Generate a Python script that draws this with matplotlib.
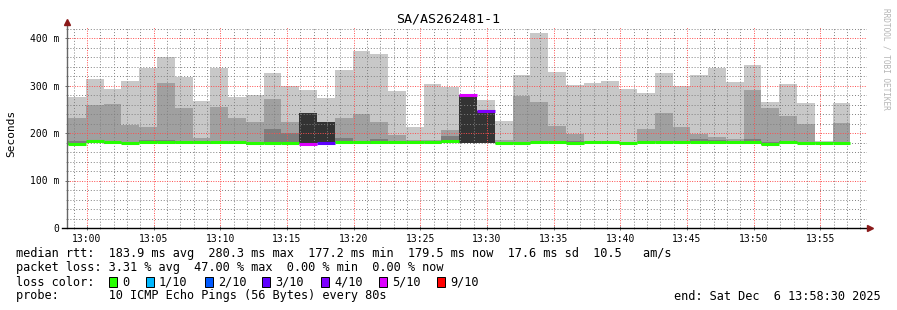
import numpy as np
import matplotlib
matplotlib.use("Agg")
import matplotlib.pyplot as plt
from matplotlib.patches import Rectangle
from matplotlib.lines import Line2D
from matplotlib.ticker import MultipleLocator

# --- data (ms), one entry per 80 s step, first one is the clipped sliver at the left edge
step = 80 / 60          # minutes
first_edge = -2.75      # minutes relative to 13:00

ping_max = [259, 276, 314, 293, 310, 337, 360, 318, 267, 337, 276, 280, 326, 299,
            291, 274, 333, 373, 366, 288, 213, 303, 297, 280, 269, 225, 322, 411,
            328, 301, 305, 309, 293, 284, 326, 299, 322, 337, 307, 343, 265, 303,
            263, 183, 263]
mid_hi = [219, 232, 259, 261, 217, 213, 305, 253, 189, 255, 232, 223, 272, 223,
          242, 223, 232, 240, 223, 196, 185, 185, 206, 280, 246, 185, 278, 265,
          215, 198, 183, 183, 182, 208, 242, 213, 198, 192, 187, 291, 253, 236,
          219, 181, 221]
inner_hi = [183, 183, 184, 182, 181, 185, 185, 183, 182, 182, 182, 180, 208, 200,
            0, 0, 189, 182, 187, 182, 182, 182, 193, 0, 0, 182, 182, 182,
            182, 183, 182, 182, 181, 182, 182, 182, 187, 185, 184, 187, 182, 184,
            182, 180, 182]
median = [182, 177.5, 182.5, 181, 180, 181, 182, 182, 181, 181, 181, 179, 180, 178,
          177.2, 179, 182, 181, 181, 181, 181, 181, 184, 280.3, 246, 178, 180, 181,
          181, 180, 181, 181, 180, 182, 182, 181, 182, 182, 182, 182, 177.3, 181,
          180, 180, 179.5]
ping_min = [178, 175, 180, 176, 176, 178, 178, 178, 178, 177, 177, 175, 176, 177,
            176, 178, 179, 178, 177, 178, 179, 178, 178, 179, 178, 176, 177, 177,
            178, 176, 178, 178, 177, 179, 179, 178, 179, 178, 178, 177, 175, 178,
            177, 176, 178]
loss = [0, 0, 0, 0, 0, 0, 0, 0, 0, 0, 0, 0, 0, 0,
        5, 3, 0, 0, 0, 0, 0, 0, 0, 5, 4, 0, 0, 0,
        0, 0, 0, 0, 0, 0, 0, 0, 0, 0, 0, 0, 0, 0,
        0, 0, 0]

loss_colors = {0: "#26ff00", 1: "#00b8ff", 2: "#0059ff", 3: "#5e00ff",
               4: "#7e00ff", 5: "#dd00ff", 9: "#ff0000"}
legend_labels = ["0", "1/10", "2/10", "3/10", "4/10", "5/10", "9/10"]
legend_keys = [0, 1, 2, 3, 4, 5, 9]

ytick_vals = [0, 100, 200, 300, 400]
ytick_labels = ["0", "100 m", "200 m", "300 m", "400 m"]
xtick_vals = [0, 5, 10, 15, 20, 25, 30, 35, 40, 45, 50, 55]
xtick_labels = ["13:00", "13:05", "13:10", "13:15", "13:20", "13:25",
                "13:30", "13:35", "13:40", "13:45", "13:50", "13:55"]

title = "SA/AS262481-1"
rtt_line = "median rtt:  183.9 ms avg  280.3 ms max  177.2 ms min  179.5 ms now  17.6 ms sd  10.5   am/s"
loss_line = "packet loss: 3.31 % avg  47.00 % max  0.00 % min  0.00 % now"
probe_line = "probe:       10 ICMP Echo Pings (56 Bytes) every 80s"
end_line = "end: Sat Dec  6 13:58:30 2025"

MONO = "DejaVu Sans Mono"
W, H = 897, 310

fig = plt.figure(figsize=(W / 100, H / 100), dpi=100)
fig.patch.set_facecolor("white")
ax = fig.add_axes([67 / W, 1 - 228 / H, 800 / W, 201 / H])

n = len(ping_max)
edges = first_edge + step * np.arange(n)
pmax = np.array(ping_max, float)
pmin = np.array(ping_min, float)
mhi = np.array(mid_hi, float)
ihi = np.array(inner_hi, float)
med = np.array(median, float)
lossa = np.array(loss)

# smoke
ax.bar(edges, pmax - pmin, bottom=pmin, width=step, align="edge",
       color="#c8c8c8", lw=0, zorder=1)
mid_col = ["#333333" if l > 0 else "#a0a0a0" for l in loss]
ax.bar(edges, mhi - pmin, bottom=pmin, width=step, align="edge",
       color=mid_col, lw=0, zorder=1.1)
inner = (lossa == 0) & (ihi > med)
ax.bar(edges[inner], ihi[inner] - pmin[inner], bottom=pmin[inner], width=step,
       align="edge", color="#7d7d7d", lw=0, zorder=1.2)

# median coloured by loss
ax.hlines(med, edges, edges + step, colors=[loss_colors[l] for l in loss],
          lw=2.2, zorder=4)

ax.set_xlim(-1.5, 58.5)
ax.set_ylim(0, 201 / 0.475)

ax.set_yticks(ytick_vals)
ax.set_yticklabels(ytick_labels)
ax.set_xticks(xtick_vals)
ax.set_xticklabels(xtick_labels)
ax.yaxis.set_minor_locator(MultipleLocator(20))
ax.xaxis.set_minor_locator(MultipleLocator(1))

ax.set_axisbelow(False)
ax.grid(which="minor", color=(0.5, 0.5, 0.5, 0.32), ls=(0, (1, 2)), lw=0.7)
ax.grid(which="major", color=(1, 0.3, 0.3, 0.55), ls=(0, (1, 1.5)), lw=0.7)

for lab in ax.get_xticklabels() + ax.get_yticklabels():
    lab.set_fontfamily(MONO)
    lab.set_fontsize(7)
ax.tick_params(axis="both", which="major", length=3, direction="inout",
               width=0.6, colors="#555555", labelcolor="black")
ax.tick_params(axis="both", which="minor", length=2, direction="inout",
               width=0.6, colors="#888888")
ax.tick_params(axis="y", pad=4)
ax.tick_params(axis="x", pad=3)

for s in ["top", "right", "left", "bottom"]:
    ax.spines[s].set_visible(False)
# axes with arrows
ax.add_line(Line2D([0, 0], [0, 1.02], transform=ax.transAxes, color="#666666",
                   lw=1, clip_on=False, zorder=5))
ax.add_line(Line2D([-0.006, 1.002], [0, 0], transform=ax.transAxes, color="black",
                   lw=1, clip_on=False, zorder=5))
ax.plot(0, 1.025, marker="^", color="#8b1a1a", ms=4, transform=ax.transAxes,
        clip_on=False, zorder=6)
ax.plot(1.004, 0, marker=">", color="#8b1a1a", ms=4, transform=ax.transAxes,
        clip_on=False, zorder=6)

# texts
fig.text(448 / W, 1 - 19 / H, title, ha="center", va="center",
         family=MONO, fontsize=9.6)
fig.text(11 / W, 1 - 133 / H, "Seconds", rotation=90, ha="center", va="center",
         family=MONO, fontsize=8)
fig.text(886 / W, 1 - 59 / H, "RRDTOOL / TOBI OETIKER", rotation=270,
         ha="center", va="center", family=MONO, fontsize=5.6, color="#b4b4b4")

fs = 8.55
fig.text(16 / W, 1 - 254 / H, rtt_line, ha="left", va="center", family=MONO, fontsize=fs)
fig.text(16 / W, 1 - 268 / H, loss_line, ha="left", va="center", family=MONO, fontsize=fs)
fig.text(16 / W, 1 - 282 / H, "loss color:", ha="left", va="center", family=MONO, fontsize=fs)
fig.text(16 / W, 1 - 296 / H, probe_line, ha="left", va="center", family=MONO, fontsize=fs)
fig.text(881 / W, 1 - 296 / H, end_line, ha="right", va="center", family=MONO, fontsize=fs)

square_x = [109, 146, 205, 262, 321, 379, 437]
for sx, key, lab in zip(square_x, legend_keys, legend_labels):
    fig.patches.append(Rectangle((sx / W, 1 - 287 / H), 8 / W, 10 / H,
                                 transform=fig.transFigure, facecolor=loss_colors[key],
                                 edgecolor="black", lw=0.7))
    fig.text((sx + 13) / W, 1 - 282 / H, lab, ha="left", va="center",
             family=MONO, fontsize=fs)

fig.savefig("out.png", dpi=100)
